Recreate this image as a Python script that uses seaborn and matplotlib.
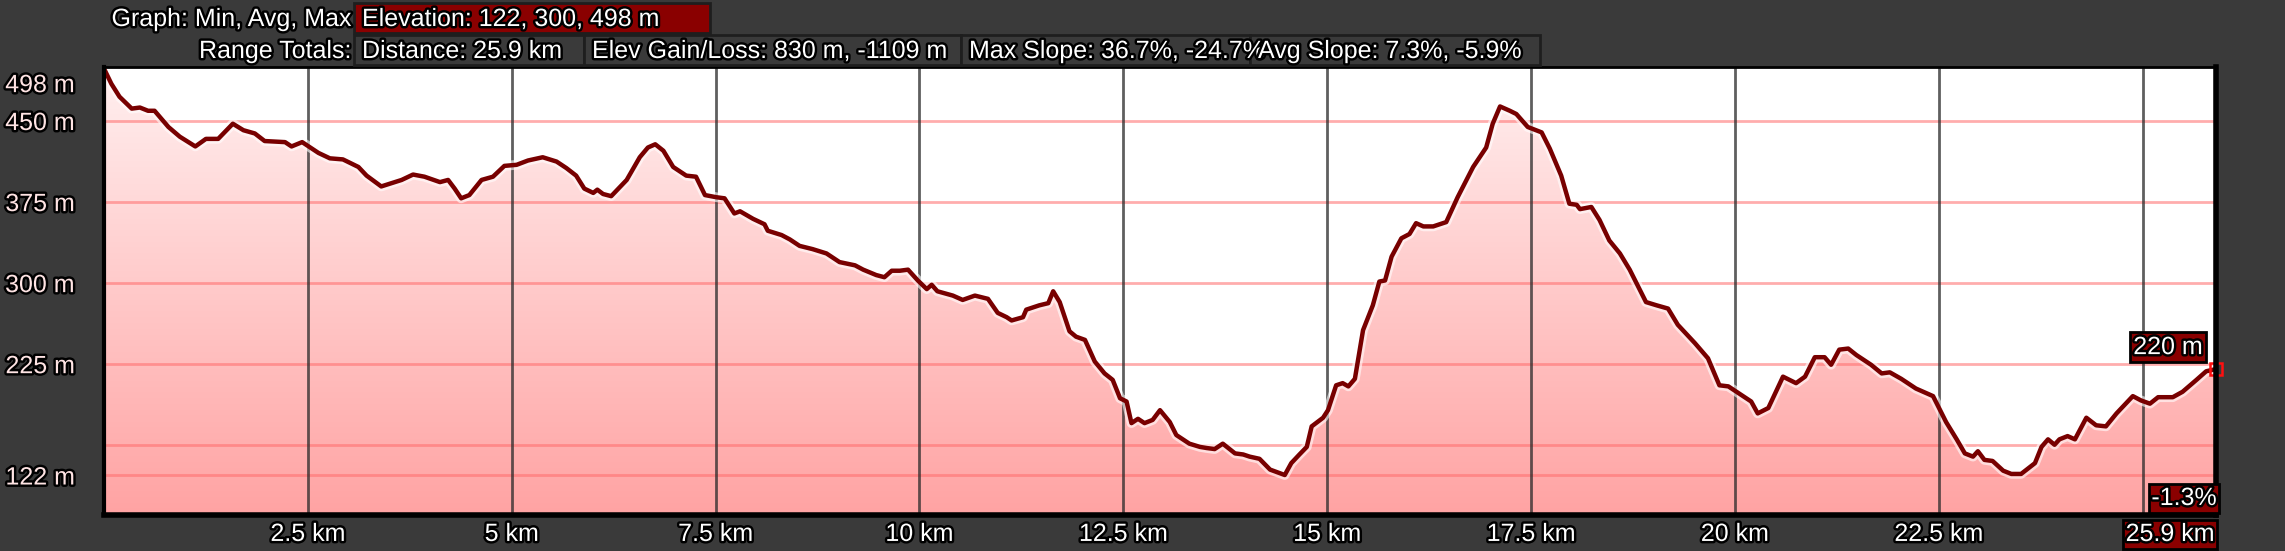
import numpy as np
import pandas as pd
import matplotlib
matplotlib.use('Agg')
import matplotlib.pyplot as plt
import matplotlib.patheffects as pe
from matplotlib.patches import Rectangle
from matplotlib.colors import LinearSegmentedColormap
from matplotlib.transforms import ScaledTranslation
import seaborn as sns

# profile data (km, m)
distance_km = [
    0.00, 0.09, 0.19, 0.34, 0.44, 0.54, 0.62, 0.79, 0.93, 1.12, 1.25, 1.40, 1.58, 1.71, 1.85,
    1.97, 2.22, 2.30, 2.43, 2.63, 2.77, 2.93, 3.12, 3.22, 3.40, 3.65, 3.79, 3.93, 4.12, 4.22,
    4.30, 4.38, 4.48, 4.63, 4.77, 4.91, 5.06, 5.20, 5.38, 5.55, 5.67, 5.79, 5.89, 6.00, 6.05,
    6.12, 6.22, 6.41, 6.57, 6.67, 6.76, 6.86, 6.98, 7.14, 7.26, 7.37, 7.51, 7.61, 7.73, 7.80,
    7.96, 8.10, 8.14, 8.31, 8.41, 8.53, 8.69, 8.86, 9.02, 9.21, 9.31, 9.47, 9.57, 9.66, 9.76,
    9.86, 9.98, 10.09, 10.15, 10.22, 10.41, 10.53, 10.68, 10.84, 10.96, 11.07, 11.13, 11.27,
    11.31, 11.47, 11.58, 11.64, 11.72, 11.84, 11.92, 12.03, 12.15, 12.27, 12.37, 12.46, 12.54,
    12.60, 12.68, 12.76, 12.86, 12.95, 13.07, 13.15, 13.31, 13.44, 13.52, 13.62, 13.72, 13.87,
    13.97, 14.05, 14.17, 14.30, 14.48, 14.56, 14.66, 14.75, 14.81, 14.95, 15.01, 15.11, 15.19,
    15.26, 15.34, 15.44, 15.56, 15.64, 15.71, 15.79, 15.91, 16.01, 16.09, 16.18, 16.30, 16.46,
    16.60, 16.79, 16.95, 17.03, 17.12, 17.24, 17.32, 17.46, 17.63, 17.73, 17.87, 17.97, 18.06,
    18.10, 18.24, 18.34, 18.46, 18.59, 18.71, 18.91, 19.04, 19.18, 19.30, 19.51, 19.67, 19.81,
    19.92, 20.10, 20.20, 20.28, 20.41, 20.59, 20.75, 20.86, 20.98, 21.10, 21.18, 21.28, 21.39,
    21.49, 21.67, 21.80, 21.90, 22.04, 22.22, 22.43, 22.59, 22.72, 22.82, 22.92, 22.98, 23.06,
    23.16, 23.29, 23.39, 23.51, 23.68, 23.76, 23.84, 23.92, 23.98, 24.08, 24.17, 24.31, 24.43,
    24.55, 24.68, 24.88, 24.98, 25.09, 25.19, 25.37, 25.49, 25.66, 25.78, 25.90,
]
elevation_m = [
    498, 484, 472, 461, 462, 459, 459, 444, 435, 426, 433, 433, 447, 441, 438,
    431, 430, 426, 430, 420, 415, 414, 407, 399, 389, 395, 400, 398, 393, 395,
    387, 378, 381, 395, 398, 408, 409, 413, 416, 412, 406, 399, 387, 383, 386,
    382, 380, 395, 416, 425, 428, 422, 407, 399, 398, 381, 379, 378, 364, 366,
    359, 354, 348, 344, 340, 334, 331, 327, 319, 316, 312, 307, 305, 311, 311,
    312, 302, 294, 298, 292, 288, 284, 288, 285, 272, 268, 265, 268,
    275, 279, 281, 292, 282, 255, 250, 247, 227, 216, 210, 193, 190,
    170, 174, 170, 173, 182, 171, 159, 151, 148, 147, 146, 151, 142,
    141, 139, 137, 127, 122, 133, 141, 148, 167, 175, 182, 205, 207,
    204, 211, 256, 279, 301, 302, 324, 341, 345, 355, 352, 352, 356,
    379, 407, 425, 447, 463, 459, 456, 444, 439, 424, 399, 373, 372,
    368, 370, 358, 339, 327, 312, 282, 279, 276, 261, 244, 230, 205,
    204, 195, 190, 179, 184, 213, 207, 213, 231, 231, 224, 238, 239,
    233, 224, 216, 217, 211, 202, 195, 171, 155, 142, 139, 144, 136,
    135, 126, 123, 123, 133, 148, 155, 150, 155, 158, 155, 175, 168,
    167, 179, 195, 191, 188, 194, 194, 199, 210, 218, 220,
]

y_ticks = [122, 225, 300, 375, 450, 498]
y_grid = [122, 150, 225, 300, 375, 450]
x_grid = [2.5, 5, 7.5, 10, 12.5, 15, 17.5, 20, 22.5, 25]
x_ticks = [2.5, 5, 7.5, 10, 12.5, 15, 17.5, 20, 22.5]
x_tick_labels = ['2.5 km', '5 km', '7.5 km', '10 km', '12.5 km', '15 km', '17.5 km', '20 km', '22.5 km']

graph_label = 'Graph: Min, Avg, Max'
elevation_stats = 'Elevation: 122, 300, 498 m'
range_label = 'Range Totals:'
range_totals = ['Distance: 25.9 km', 'Elev Gain/Loss: 830 m, -1109 m',
                'Max Slope: 36.7%, -24.7%', 'Avg Slope: 7.3%, -5.9%']
end_slope = '-1.3%'
end_distance = '25.9 km'

W, H = 2285, 551
BG = '#3a3a3a'
DARKRED = '#8a0000'
FS = 18
outline = [pe.withStroke(linewidth=3.5, foreground='black')]

sns.set_style('white')
plt.rcParams['font.family'] = ['Liberation Sans', 'DejaVu Sans']

df = pd.DataFrame({'km': distance_km, 'elev': elevation_m})

fig = plt.figure(figsize=(W / 100, H / 100), dpi=100, facecolor=BG)
ax = fig.add_axes([104 / W, 1 - 515 / H, (2216 - 104) / W, (515 - 67) / H])
ax.set_facecolor('white')
ylo, yhi = 85, 499.5

# gradient fill under the profile
cmap = LinearSegmentedColormap.from_list('pinkgrad', ['#ffa3a3', '#fff0f0'])
grad = np.linspace(0, 1, 256).reshape(-1, 1)
im = ax.imshow(grad, aspect='auto', cmap=cmap, origin='lower',
               extent=[0, 25.9, ylo, yhi], zorder=1)
poly = ax.fill_between(df['km'], df['elev'], ylo, color='none', lw=0)
im.set_clip_path(poly.get_paths()[0], transform=ax.transData)

for y in y_grid:
    ax.axhline(y, color='#ff6b6b', alpha=0.55, lw=2, zorder=2)
for x in x_grid:
    ax.axvline(x, color='#2a2a2a', alpha=0.75, lw=2, zorder=2)

sns.lineplot(data=df, x='km', y='elev', ax=ax, color='#780000', lw=3.2, zorder=4,
             path_effects=[pe.Stroke(linewidth=7, foreground='white', alpha=0.6), pe.Normal()])
ax.plot(distance_km[-1], elevation_m[-1], marker='s', ms=9, mfc='none', mec='#ff1010',
        mew=1.8, zorder=6, clip_on=False)

ax.set_xlim(0, 25.9)
ax.set_ylim(ylo, yhi)
ax.set_xlabel('')
ax.set_ylabel('')

for side, lw in [('left', 3), ('bottom', 4), ('right', 4), ('top', 2)]:
    ax.spines[side].set_visible(True)
    ax.spines[side].set_color('black')
    ax.spines[side].set_linewidth(lw)
    ax.spines[side].set_zorder(7)

ax.set_yticks(y_ticks)
ax.set_yticklabels([f'{v} m' for v in y_ticks])
ax.tick_params(axis='y', length=0, pad=21, labelsize=FS, labelcolor='#ffe4e4')
for lab in ax.get_yticklabels():
    lab.set_path_effects(outline)
top_lab = ax.get_yticklabels()[-1]
top_lab.set_transform(top_lab.get_transform() + ScaledTranslation(0, -14 / 100, fig.dpi_scale_trans))

ax.set_xticks(x_ticks)
ax.set_xticklabels(x_tick_labels)
ax.tick_params(axis='x', length=0, pad=5, labelsize=FS, labelcolor='white')
for lab in ax.get_xticklabels():
    lab.set_path_effects(outline)


def px(x, y):
    return x / W, 1 - y / H


def header_box(x0, x1, y0, y1, fc, text):
    fig.add_artist(Rectangle(px(x0, y1), (x1 - x0) / W, (y1 - y0) / H, transform=fig.transFigure,
                             fc=fc, ec='#1e1e1e', lw=2, zorder=2))
    t = fig.text(*px(x0 + 8, (y0 + y1) / 2 + 1), text, color='white', fontsize=FS,
                 ha='left', va='center', zorder=3)
    t.set_path_effects(outline)


# header rows
t = fig.text(*px(351, 19), graph_label, color='white', fontsize=FS, ha='right', va='center')
t.set_path_effects(outline)
header_box(354, 710, 3, 33, DARKRED, elevation_stats)
t = fig.text(*px(351, 51), range_label, color='white', fontsize=FS, ha='right', va='center')
t.set_path_effects(outline)
box_edges = [354, 584, 961, 1250, 1540]
for i, txt in enumerate(range_totals):
    header_box(box_edges[i], box_edges[i + 1], 35, 65, BG, txt)

# end-point labels
a = ax.annotate(f'{elevation_m[-1]} m', xy=(distance_km[-1], elevation_m[-1]),
                xytext=(-48, 22), textcoords='offset pixels', ha='center', va='center',
                color='white', fontsize=FS, zorder=8, annotation_clip=False,
                bbox=dict(boxstyle='square,pad=0.12', fc=DARKRED, ec='black', lw=2))
a.set_path_effects(outline)
t = fig.text(*px(2184, 498), end_slope, color='white', fontsize=FS, ha='center', va='center',
             zorder=9, bbox=dict(boxstyle='square,pad=0.1', fc=DARKRED, ec='black', lw=2))
t.set_path_effects(outline)
t = fig.text(*px(2170, 534), end_distance, color='white', fontsize=FS, ha='center', va='center',
             zorder=9, bbox=dict(boxstyle='square,pad=0.1', fc=DARKRED, ec='black', lw=2))
t.set_path_effects(outline)

fig.savefig('out.png', dpi=100, facecolor=BG)
